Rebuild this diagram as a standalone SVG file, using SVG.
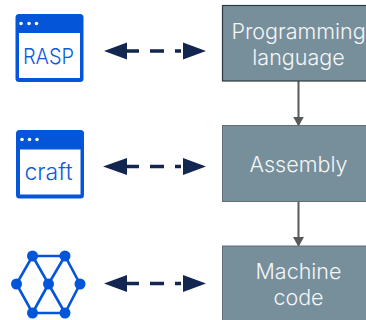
<svg xmlns="http://www.w3.org/2000/svg" width="366" height="320" viewBox="0 0 366 320">
<style>
.box{fill:#778f9b}
.lbl{font-family:Inter,"Noto Sans",sans-serif;font-size:21.500px;font-weight:300;fill:#f4f6f7;text-anchor:middle}
.win{fill:#0455d8}
.pane{fill:#fff}
.dot{fill:#fff}
.wt{font-family:Inter,"Noto Sans",sans-serif;font-size:22px;font-weight:300;fill:#0f5bd8;text-anchor:middle}
.dash{stroke:#13264f;stroke-width:3.500;stroke-dasharray:14 11;fill:none}
.head{fill:#13264f}
.flow{stroke:#595959;stroke-width:2;fill:none;marker-end:url(#a)}
.net{stroke:#0455d8;stroke-width:2.600;fill:none}
.nd{fill:#0455d8}
</style>
<defs><marker id="a" markerUnits="userSpaceOnUse" markerWidth="10" markerHeight="11" refX="8" refY="5.500" orient="auto"><path d="M0 0L10 5.500L0 11Z" fill="#595959"/></marker></defs>
<g id="connectors">
<path class="flow" d="M298.500 81V124.500"/>
<path class="flow" d="M298.500 201.500V245"/>
<g id="link1"><path class="dash" d="M125 51H181"/><path class="head" d="M104 51L127 42.500V59.500Z"/><path class="head" d="M206 51L183 42.500V59.500Z"/></g>
<g id="link2"><path class="dash" d="M125 166.500H181"/><path class="head" d="M103 166.500L127 158V175Z"/><path class="head" d="M206 166.500L183 158V175Z"/></g>
<g id="link3"><path class="dash" d="M125 283.500H181"/><path class="head" d="M104 283.500L127 275V292Z"/><path class="head" d="M206 283.500L183 275V292Z"/></g>
</g>
<g id="n-programming"><rect x="222.500" y="5.500" width="150" height="75.500" class="box" stroke="#2b3a42" stroke-width="1.200"/><text class="lbl" x="298.500" y="38.500">Programming</text><text class="lbl" x="298.500" y="64.500">language</text></g>
<g id="n-assembly"><rect x="222.500" y="125.500" width="150" height="76" class="box" stroke="#5f6f78" stroke-width="1"/><text class="lbl" x="298.500" y="172">Assembly</text></g>
<g id="n-machine"><rect x="222.500" y="246" width="150" height="80" class="box" stroke="#5f6f78" stroke-width="1"/><text class="lbl" x="298.500" y="279">Machine</text><text class="lbl" x="298.500" y="305">code</text></g>
<g id="n-rasp"><rect x="15.500" y="14" width="68" height="68" rx="3.500" class="win"/><rect x="19" y="33" width="61" height="45" class="pane"/><circle class="dot" cx="21" cy="23.500" r="1.800"/><circle class="dot" cx="29" cy="23.500" r="1.800"/><circle class="dot" cx="36.500" cy="23.500" r="1.800"/><text class="wt" x="48.500" y="64" textLength="51" lengthAdjust="spacingAndGlyphs">RASP</text></g>
<g id="n-craft"><rect x="16" y="130" width="68" height="68.500" rx="3.500" class="win"/><rect x="20" y="149.500" width="60.500" height="45" class="pane"/><circle class="dot" cx="22" cy="139.500" r="1.800"/><circle class="dot" cx="29.500" cy="139.500" r="1.800"/><circle class="dot" cx="37" cy="139.500" r="1.800"/><text class="wt" x="48.500" y="180" font-size="23" style="font-size:23px">craft</text></g>
<g id="n-network">
<path class="net" d="M32.500 256H65L80 284L65 313H32.500L16.500 284ZM32.500 256L48.500 284L65 256M32.500 313L48.500 284L65 313"/>
<circle class="nd" cx="32.500" cy="256" r="5.500"/><circle class="nd" cx="65" cy="256" r="5.500"/><circle class="nd" cx="16.500" cy="284" r="5.500"/><circle class="nd" cx="48.500" cy="284" r="5.500"/><circle class="nd" cx="80" cy="284" r="5.500"/><circle class="nd" cx="32.500" cy="313" r="5.500"/><circle class="nd" cx="65" cy="313" r="5.500"/>
</g>
</svg>
